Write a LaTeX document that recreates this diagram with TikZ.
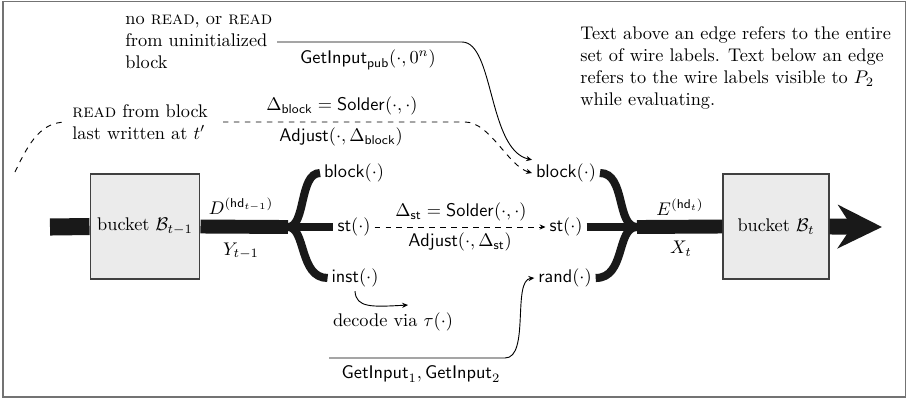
\documentclass[tikz,border=0pt]{standalone}
\usetikzlibrary{arrows.meta}
\begin{document}
\begin{tikzpicture}[x=0.546pt,y=-0.546pt,
  box/.style={draw=black!75, fill=black!8, line width=0.6pt, minimum width=60pt, minimum height=57.3pt, inner sep=0pt},
  lab/.style={inner sep=2pt},
  txt/.style={align=left, inner sep=3pt, anchor=west},
  wirein/.style={line width=9.3pt, black!90},
  trunk/.style={line width=7.6pt, black!90},
  branch/.style={line width=4.4pt, black!90},
  conn/.style={line width=0.5pt, -{Stealth[length=3.2pt,width=2.8pt]}},
  dconn/.style={conn, dashed}
]
\useasboundingbox (0,0) rectangle (906,400);
\draw[black!55, line width=0.8pt] (3,1.5) rectangle (906,397);

% boxes
\node[box] (b1) at (145,226.5) {bucket $\mathcal{B}_{t-1}$};
\node[box, minimum width=57.9pt] (b2) at (776,226.5) {bucket $\mathcal{B}_t$};

% wire labels
\node[lab] (lblock) at (354,173) {$\mathsf{block}(\cdot)$};
\node[lab] (lst) at (354,227) {$\mathsf{st}(\cdot)$};
\node[lab] (linst) at (355,278) {$\mathsf{inst}(\cdot)$};
\node[lab] (rblock) at (566,173) {$\mathsf{block}(\cdot)$};
\node[lab] (rst) at (566,227) {$\mathsf{st}(\cdot)$};
\node[lab] (rrand) at (565,278) {$\mathsf{rand}(\cdot)$};

% texts
\node[txt] (noread) at (119.5,42) {no \textsc{read}, or \textsc{read}\\from uninitialized\\block};
\node[txt] (readfrom) at (66.5,122) {\textsc{read} from block\\last written at $t'$};
\node[txt] (note) at (574.5,68) {Text above an edge refers to the entire\\set of wire labels. Text below an edge\\refers to the wire labels visible to $P_2$\\while evaluating.};

% coordinates
\coordinate (in) at (50,227);
\coordinate (ml) at (288,227);
\coordinate (mr) at (637,227);
\coordinate (out) at (882,227);
\coordinate (gs) at (277,42);
\coordinate (ds0) at (15,172);
\coordinate (ds1) at (223,122);
\coordinate (gb) at (329,358);
\coordinate (dec) at (408,305);

% thick wires
\draw[wirein] (in) -- (b1.west);
\draw[trunk] (b1.east) -- (ml);
\draw[branch] (ml) .. controls (306,227) and (299,173) .. (lblock.west);
\draw[branch] (ml) -- (lst.west);
\draw[branch] (ml) .. controls (306,227) and (299,278) .. (linst.west);
\draw[branch] (rblock.east) .. controls (626,173) and (616,227) .. (mr);
\draw[branch] (rst.east) -- (mr);
\draw[branch] (rrand.east) .. controls (626,278) and (616,227) .. (mr);
\draw[trunk] (mr) -- (b2.west);
\draw[line width=8.7pt, black!90, -{Stealth[length=24pt,width=23.5pt,inset=7.6pt]}] (b2.east) -- (out);

% trunk labels
\node at (241,206) {$D^{(\mathsf{hd}_{t-1})}$};
\node at (241,251) {$Y_{t-1}$};
\node at (680,207) {$E^{(\mathsf{hd}_t)}$};
\node at (681,249) {$X_t$};

% middle dashed
\draw[dconn] (lst.east) -- (rst.west);
\node at (461,212) {$\Delta_{\mathsf{st}} = \mathsf{Solder}(\cdot,\cdot)$};
\node at (460,242) {$\mathsf{Adjust}(\cdot,\Delta_{\mathsf{st}})$};

% top solid
\draw[conn] (gs) -- (462,42) .. controls (494,42) and (488,150) .. (rblock.north west);
\node at (368,60) {$\mathsf{GetInput}_{\mathsf{pub}}(\cdot,0^n)$};

% top dashed
\draw[line width=0.5pt, dashed] (ds0) .. controls (30,140) and (42,122) .. (readfrom.west);
\draw[dconn] (ds1) -- (465,122) .. controls (490,122) and (508,166) .. (rblock.west);
\node at (342,106) {$\Delta_{\mathsf{block}} = \mathsf{Solder}(\cdot,\cdot)$};
\node at (341,137) {$\mathsf{Adjust}(\cdot,\Delta_{\mathsf{block}})$};

% bottom
\draw[conn] (gb) -- (505,358) .. controls (530,358) and (512,280) .. (rrand.west);
\node at (421,374) {$\mathsf{GetInput}_1, \mathsf{GetInput}_2$};

% decode
\draw[conn] (linst.south) .. controls (356,308) and (372,307) .. (dec);
\node at (393,322) {decode via $\tau(\cdot)$};
\end{tikzpicture}
\end{document}
